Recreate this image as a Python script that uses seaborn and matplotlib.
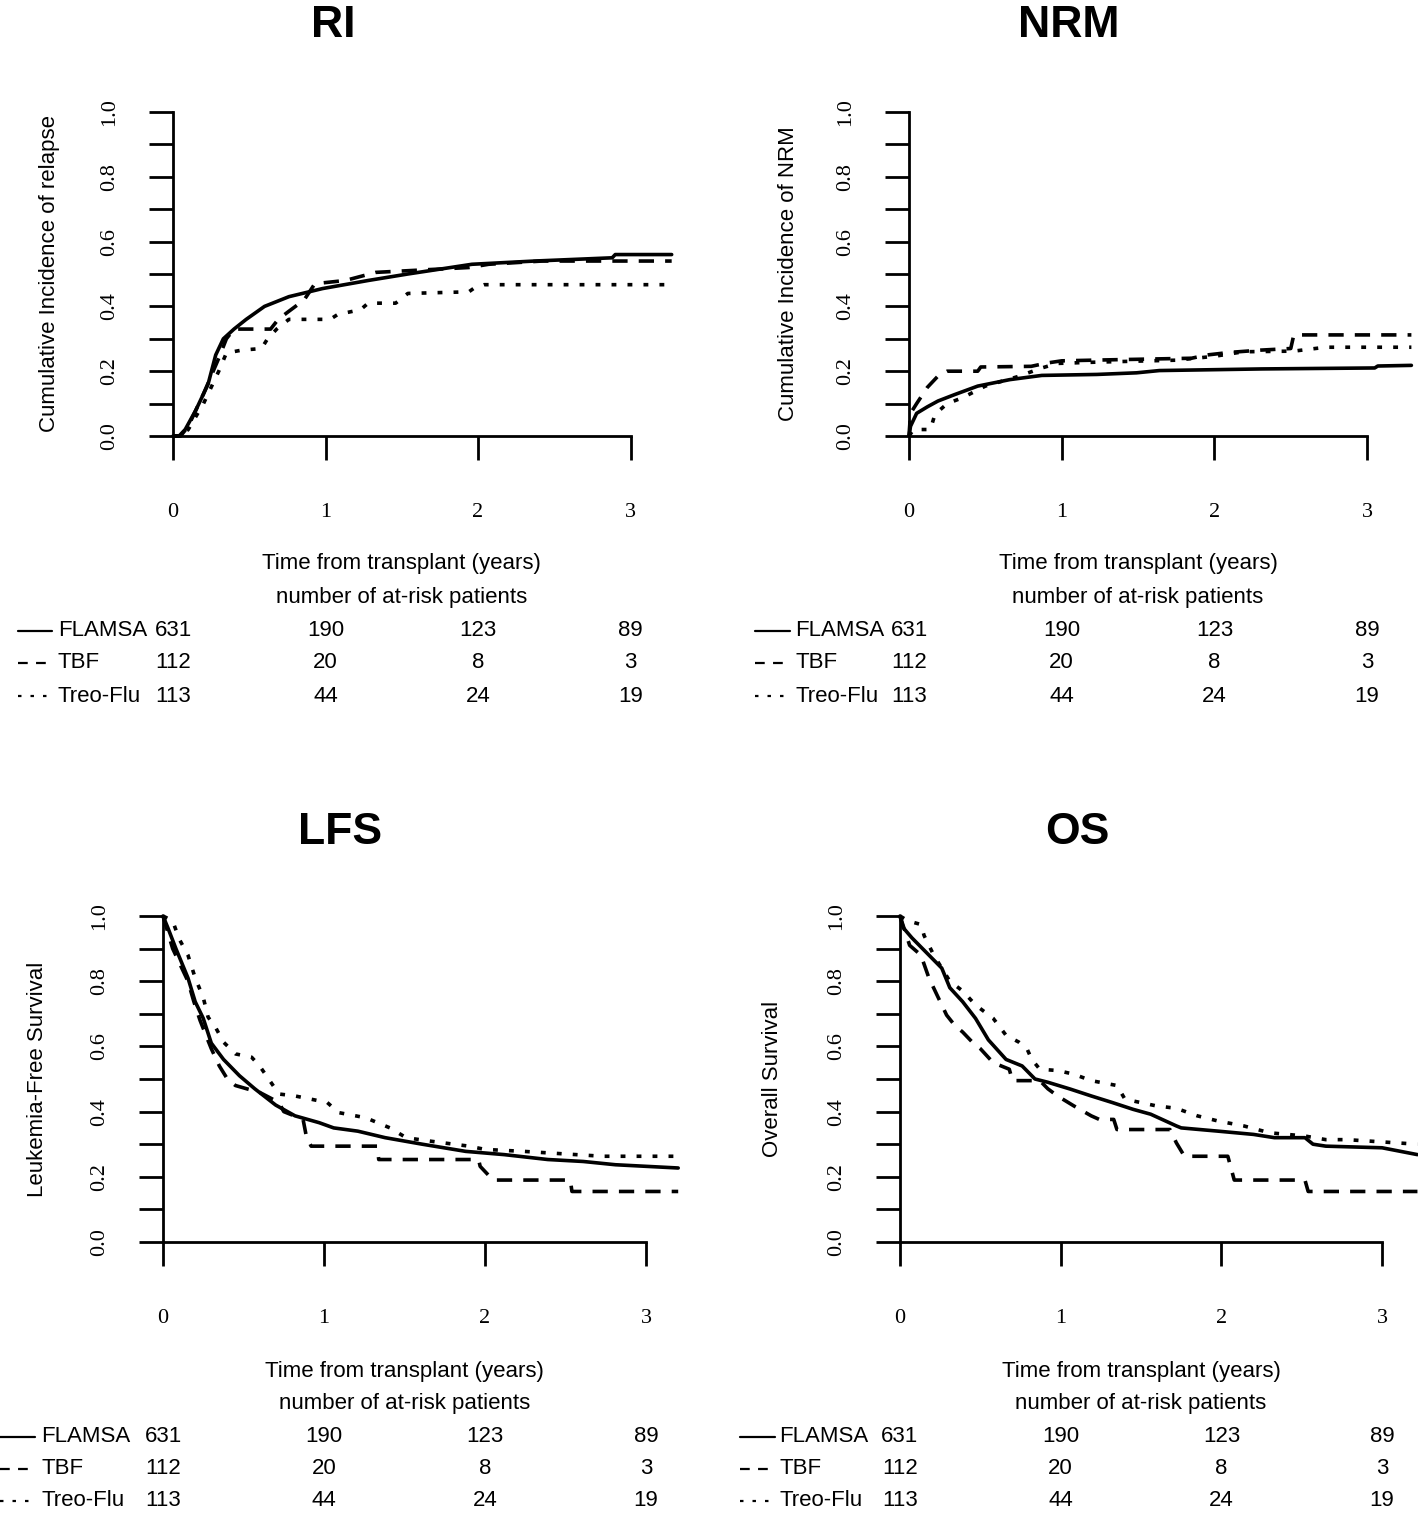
import numpy as np
import pandas as pd
import matplotlib
matplotlib.use("Agg")
import matplotlib.pyplot as plt
from matplotlib.lines import Line2D
from matplotlib.transforms import blended_transform_factory
import seaborn as sns

# ---- data ----
groups = ["FLAMSA", "TBF", "Treo-Flu"]
tick_years = [0, 1, 2, 3]
at_risk = {"FLAMSA": [631, 190, 123, 89],
           "TBF": [112, 20, 8, 3],
           "Treo-Flu": [113, 44, 24, 19]}

# RI - cumulative incidence of relapse
ri_flamsa_t = [0, 0.04, 0.08, 0.15, 0.23, 0.28, 0.33, 0.40, 0.48, 0.60, 0.76, 0.98, 1.28, 1.54, 1.96, 2.37, 2.88, 2.90, 3.27]
ri_flamsa_y = [0, 0, 0.02, 0.08, 0.16, 0.25, 0.30, 0.33, 0.36, 0.40, 0.43, 0.455, 0.48, 0.50, 0.53, 0.54, 0.55, 0.56, 0.56]
ri_tbf_t = [0, 0.05, 0.10, 0.20, 0.30, 0.35, 0.40, 0.64, 0.69, 0.76, 0.86, 0.93, 1.13, 1.33, 1.94, 2.07, 2.42, 3.27]
ri_tbf_y = [0, 0, 0.03, 0.13, 0.24, 0.30, 0.33, 0.33, 0.36, 0.385, 0.42, 0.47, 0.48, 0.505, 0.52, 0.53, 0.54, 0.54]
ri_treo_t = [0, 0.05, 0.10, 0.20, 0.30, 0.35, 0.45, 0.58, 0.62, 0.68, 0.76, 1.03, 1.08, 1.23, 1.28, 1.46, 1.54, 1.94, 1.97, 2.04, 3.25]
ri_treo_y = [0, 0, 0.02, 0.10, 0.20, 0.256, 0.265, 0.27, 0.30, 0.33, 0.36, 0.36, 0.375, 0.39, 0.41, 0.41, 0.44, 0.445, 0.455, 0.467, 0.467]

# NRM - cumulative incidence of non-relapse mortality
nrm_flamsa_t = [0, 0.01, 0.05, 0.12, 0.19, 0.30, 0.45, 0.66, 0.87, 1.23, 1.49, 1.64, 2.31, 3.05, 3.07, 3.29]
nrm_flamsa_y = [0, 0.03, 0.07, 0.09, 0.108, 0.128, 0.154, 0.174, 0.187, 0.19, 0.195, 0.202, 0.207, 0.21, 0.216, 0.218]
nrm_tbf_t = [0, 0.01, 0.05, 0.12, 0.19, 0.25, 0.45, 0.47, 0.80, 0.90, 1.00, 1.30, 1.85, 1.95, 2.10, 2.30, 2.50, 2.52, 3.29]
nrm_tbf_y = [0, 0.07, 0.10, 0.15, 0.185, 0.20, 0.20, 0.213, 0.215, 0.225, 0.232, 0.235, 0.24, 0.25, 0.258, 0.265, 0.27, 0.312, 0.312]
nrm_treo_t = [0, 0.03, 0.14, 0.17, 0.25, 0.35, 0.50, 0.71, 0.87, 0.97, 1.23, 1.75, 2.00, 2.19, 2.52, 2.73, 3.29]
nrm_treo_y = [0, 0.02, 0.02, 0.067, 0.10, 0.118, 0.154, 0.183, 0.21, 0.224, 0.228, 0.234, 0.246, 0.26, 0.262, 0.274, 0.274]

# LFS - leukemia-free survival
lfs_flamsa_t = [0, 0.03, 0.08, 0.155, 0.20, 0.25, 0.30, 0.376, 0.475, 0.57, 0.70, 0.82, 0.97, 1.06, 1.21, 1.38, 1.61, 1.88, 2.12, 2.39, 2.61, 2.81, 3.2]
lfs_flamsa_y = [1, 0.964, 0.90, 0.81, 0.737, 0.686, 0.61, 0.56, 0.51, 0.47, 0.42, 0.387, 0.366, 0.35, 0.34, 0.32, 0.30, 0.278, 0.268, 0.253, 0.247, 0.237, 0.227]
lfs_tbf_t = [0, 0.06, 0.155, 0.19, 0.23, 0.27, 0.30, 0.35, 0.40, 0.45, 0.52, 0.60, 0.72, 0.75, 0.87, 0.89, 0.92, 1.33, 1.34, 1.96, 1.97, 2.05, 2.53, 2.54, 3.2]
lfs_tbf_y = [1, 0.90, 0.80, 0.74, 0.68, 0.63, 0.593, 0.54, 0.50, 0.48, 0.47, 0.459, 0.428, 0.40, 0.376, 0.325, 0.294, 0.294, 0.253, 0.253, 0.232, 0.19, 0.19, 0.155, 0.155]
lfs_treo_t = [0, 0.06, 0.10, 0.155, 0.20, 0.25, 0.28, 0.33, 0.376, 0.45, 0.55, 0.60, 0.67, 0.72, 0.82, 1.02, 1.09, 1.26, 1.41, 1.51, 1.65, 1.90, 2.00, 2.24, 2.73, 3.2]
lfs_treo_y = [1, 0.985, 0.93, 0.88, 0.81, 0.75, 0.69, 0.655, 0.613, 0.577, 0.567, 0.54, 0.49, 0.454, 0.448, 0.428, 0.397, 0.381, 0.35, 0.32, 0.31, 0.294, 0.284, 0.278, 0.263, 0.263]

# OS - overall survival
os_flamsa_t = [0, 0.02, 0.074, 0.18, 0.26, 0.31, 0.39, 0.47, 0.55, 0.66, 0.76, 0.84, 0.92, 1.06, 1.19, 1.32, 1.45, 1.56, 1.72, 1.75, 1.98, 2.20, 2.33, 2.52, 2.57, 2.65, 3.0, 3.22]
os_flamsa_y = [1, 0.964, 0.933, 0.88, 0.84, 0.78, 0.737, 0.686, 0.62, 0.56, 0.54, 0.50, 0.49, 0.469, 0.448, 0.428, 0.407, 0.392, 0.356, 0.35, 0.34, 0.33, 0.32, 0.32, 0.30, 0.294, 0.289, 0.268]
os_tbf_t = [0, 0.06, 0.13, 0.18, 0.23, 0.29, 0.34, 0.39, 0.45, 0.50, 0.58, 0.68, 0.70, 0.87, 0.92, 0.98, 1.08, 1.19, 1.24, 1.33, 1.35, 1.68, 1.72, 1.77, 2.04, 2.08, 2.52, 2.54, 3.22]
os_tbf_y = [1, 0.91, 0.88, 0.81, 0.758, 0.696, 0.665, 0.644, 0.613, 0.593, 0.55, 0.53, 0.495, 0.495, 0.47, 0.448, 0.418, 0.387, 0.376, 0.376, 0.345, 0.345, 0.304, 0.263, 0.263, 0.19, 0.19, 0.155, 0.155]
os_treo_t = [0, 0.05, 0.13, 0.15, 0.21, 0.26, 0.31, 0.39, 0.47, 0.58, 0.66, 0.74, 0.79, 0.82, 0.87, 0.98, 1.08, 1.19, 1.35, 1.40, 1.59, 1.72, 1.85, 1.98, 2.14, 2.30, 2.52, 2.65, 2.78, 3.22]
os_treo_y = [1, 0.985, 0.974, 0.94, 0.88, 0.84, 0.80, 0.77, 0.727, 0.686, 0.634, 0.613, 0.593, 0.56, 0.53, 0.526, 0.515, 0.495, 0.48, 0.438, 0.418, 0.41, 0.387, 0.371, 0.356, 0.335, 0.325, 0.314, 0.314, 0.30]

# ---- style ----
W, H = 1418, 1514
sns.set_style("white")
plt.rcParams['font.family'] = ['Liberation Sans', 'DejaVu Sans']
plt.rcParams['lines.scale_dashes'] = False
plt.rcParams['text.color'] = 'black'
plt.rcParams['xtick.color'] = 'black'
plt.rcParams['ytick.color'] = 'black'
plt.rcParams['xtick.labelcolor'] = 'black'
plt.rcParams['ytick.labelcolor'] = 'black'

line_dash = {"FLAMSA": None, "TBF": (11, 8), "Treo-Flu": (3.5, 8)}
legend_dash = {"FLAMSA": None, "TBF": (7, 6), "Treo-Flu": (2.5, 6.5)}

fig = plt.figure(figsize=(W / 100, H / 100), dpi=100)


def fx(px):
    return px / W


def fy(py):
    return 1 - py / H


def panel(title, ylabel, curves, x0, pxyr, xmax, ybot, ytop, title_xy, ylab_x,
          leg_x, lab_x, text_rows):
    width = xmax * pxyr
    ax = fig.add_axes([fx(x0), fy(ybot), width / W, (ybot - ytop) / H])
    for g in groups:
        t, y = curves[g]
        df = pd.DataFrame({"t": t, "y": y})
        kw = dict(color="black", linewidth=2.6, estimator=None, sort=False,
                  clip_on=False, solid_joinstyle="round")
        if line_dash[g] is not None:
            kw["dashes"] = line_dash[g]
            kw["dash_capstyle"] = "butt"
        sns.lineplot(data=df, x="t", y="y", ax=ax, **kw)
    ax.set_xlim(0, xmax)
    ax.set_ylim(0, 1)
    for s in ["top", "right"]:
        ax.spines[s].set_visible(False)
    ax.spines["left"].set_bounds(0, 1)
    ax.spines["bottom"].set_bounds(0, 3)
    for s in ["left", "bottom"]:
        ax.spines[s].set_linewidth(2.0)
        ax.spines[s].set_color("black")
    ax.set_xticks(tick_years)
    ax.set_xticklabels([str(v) for v in tick_years], family="Liberation Serif", fontsize=16)
    yt = np.round(np.arange(0, 1.01, 0.1), 1)
    ax.set_yticks(yt)
    ax.set_yticklabels([f"{v:.1f}" if i % 2 == 0 else "" for i, v in enumerate(yt)],
                       family="Liberation Serif", fontsize=16, rotation=90, va="center")
    ax.tick_params(axis="both", direction="out", length=17, width=2.0, color="black",
                   bottom=True, left=True, labelcolor="black")
    ax.tick_params(axis="x", pad=31)
    ax.tick_params(axis="y", pad=22)
    ax.set_xlabel("")
    ax.set_ylabel("")
    ax.patch.set_alpha(0)

    fig.text(fx(title_xy[0]), fy(title_xy[1]), title, ha="center", va="baseline",
             fontsize=32, fontweight="bold", color="black")
    fig.text(fx(ylab_x), fy((ybot + ytop) / 2), ylabel, rotation=90, ha="center",
             va="center", fontsize=16, color="black")

    xlab_y, risk_y, row_ys = text_rows
    tr = blended_transform_factory(ax.transData, fig.transFigure)
    ax.text(1.5, fy(xlab_y), "Time from transplant (years)", transform=tr,
            ha="center", va="center", fontsize=16, color="black")
    ax.text(1.5, fy(risk_y), "number of at-risk patients", transform=tr,
            ha="center", va="center", fontsize=16, color="black")
    for g, ry in zip(groups, row_ys):
        ln = Line2D([fx(leg_x[0]), fx(leg_x[1])], [fy(ry), fy(ry)],
                    transform=fig.transFigure, color="black", linewidth=1.6)
        if legend_dash[g] is not None:
            ln.set_dashes(legend_dash[g])
        fig.add_artist(ln)
        fig.text(fx(lab_x), fy(ry), g, ha="left", va="center", fontsize=16, color="black")
        for yr, n in zip(tick_years, at_risk[g]):
            ax.text(yr, fy(ry), str(n), transform=tr, ha="center", va="center",
                    fontsize=16, color="black")
    return ax


panel("RI", "Cumulative Incidence of relapse",
      {"FLAMSA": (ri_flamsa_t, ri_flamsa_y), "TBF": (ri_tbf_t, ri_tbf_y),
       "Treo-Flu": (ri_treo_t, ri_treo_y)},
      173, 152.5, 3.3, 436, 112, (333, 37), 50, (18, 52), 58,
      (564, 597, [631, 663, 696]))

panel("NRM", "Cumulative Incidence of NRM",
      {"FLAMSA": (nrm_flamsa_t, nrm_flamsa_y), "TBF": (nrm_tbf_t, nrm_tbf_y),
       "Treo-Flu": (nrm_treo_t, nrm_treo_y)},
      909, 152.7, 3.32, 436, 112, (1069, 37), 788, (755, 790), 795,
      (564, 597, [631, 663, 696]))

panel("LFS", "Leukemia-Free Survival",
      {"FLAMSA": (lfs_flamsa_t, lfs_flamsa_y), "TBF": (lfs_tbf_t, lfs_tbf_y),
       "Treo-Flu": (lfs_treo_t, lfs_treo_y)},
      163, 161, 3.2, 1242, 916, (340, 844), 38, (0, 35), 41,
      (1371, 1403, [1437, 1469, 1501]))

panel("OS", "Overall Survival",
      {"FLAMSA": (os_flamsa_t, os_flamsa_y), "TBF": (os_tbf_t, os_tbf_y),
       "Treo-Flu": (os_treo_t, os_treo_y)},
      900, 160.7, 3.22, 1242, 916, (1077, 844), 772, (740, 775), 779,
      (1371, 1403, [1437, 1469, 1501]))

fig.savefig("out.png", dpi=100)
